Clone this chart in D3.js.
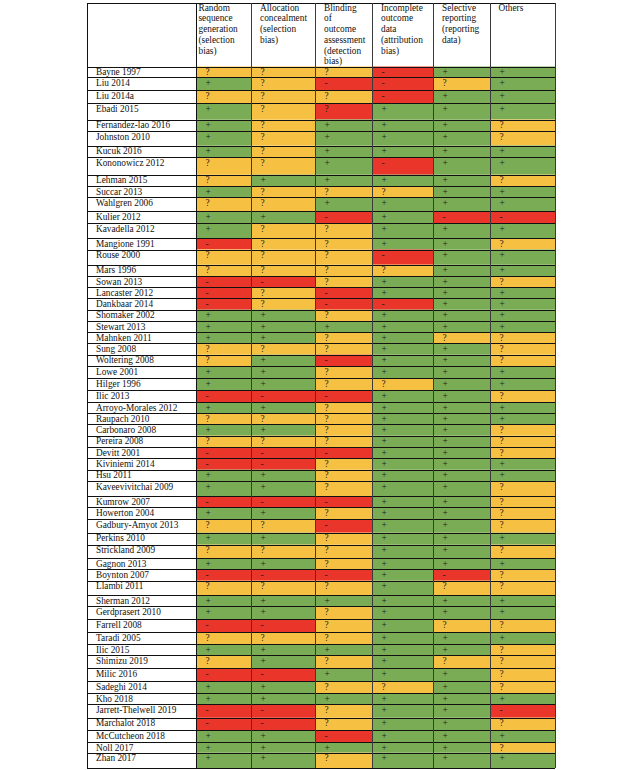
<!DOCTYPE html>
<html><head><meta charset="utf-8">
<script src="https://cdn.jsdelivr.net/npm/d3@7"></script>
<style>html,body{margin:0;padding:0;background:#fff;}svg{display:block;}</style>
</head><body>
<script>
// ---- DATA ----
const domains = [
  ["Random","sequence","generation","(selection","bias)"],
  ["Allocation","concealment","(selection","bias)"],
  ["Blinding","of","outcome","assessment","(detection","bias)"],
  ["Incomplete","outcome","data","(attribution","bias)"],
  ["Selective","reporting","(reporting","data)"],
  ["Others"]
];
const studies = [
  "Bayne 1997","Liu 2014","Liu 2014a","Ebadi 2015","Fernandez-lao 2016","Johnston 2010","Kucuk 2016",
  "Kononowicz 2012","Lehman 2015","Succar 2013","Wahlgren 2006","Kulier 2012","Kavadella 2012",
  "Mangione 1991","Rouse 2000","Mars 1996","Sowan 2013","Lancaster 2012","Dankbaar 2014",
  "Shomaker 2002","Stewart 2013","Mahnken 2011","Sung 2008","Woltering 2008","Lowe 2001",
  "Hilger 1996","Ilic 2013","Arroyo-Morales 2012","Raupach 2010","Carbonaro 2008","Pereira 2008",
  "Devitt 2001","Kiviniemi 2014","Hsu 2011","Kaveevivitchai 2009","Kumrow 2007","Howerton 2004",
  "Gadbury-Amyot 2013","Perkins 2010","Strickland 2009","Gagnon 2013","Boynton 2007","Llambi 2011",
  "Sherman 2012","Gerdprasert 2010","Farrell 2008","Taradi 2005","Ilic 2015","Shimizu 2019",
  "Milic 2016","Sadeghi 2014","Kho 2018","Jarrett-Thelwell 2019","Marchalot 2018",
  "McCutcheon 2018","Noll 2017","Zhan 2017"
];
// "+" low risk, "?" unclear, "-" high risk, "R?" high risk marked with "?"
const judgements = [
  ["?","?","?","-","+","+"],
  ["+","?","-","-","?","+"],
  ["?","?","?","-","+","+"],
  ["+","?","R?","+","+","+"],
  ["+","?","+","+","+","?"],
  ["+","?","+","+","+","?"],
  ["+","?","+","+","+","+"],
  ["?","?","+","-","+","+"],
  ["?","+","+","+","+","?"],
  ["+","?","?","?","+","+"],
  ["?","?","+","+","+","+"],
  ["+","+","-","+","-","-"],
  ["+","?","?","+","+","+"],
  ["-","?","?","+","+","?"],
  ["?","?","?","-","+","+"],
  ["?","?","?","?","+","+"],
  ["-","-","?","+","+","?"],
  ["-","?","-","+","+","+"],
  ["-","?","-","-","+","+"],
  ["+","+","?","+","+","+"],
  ["+","+","+","+","+","+"],
  ["+","+","?","+","?","?"],
  ["?","?","?","+","+","?"],
  ["?","+","-","+","+","?"],
  ["+","+","?","+","+","+"],
  ["+","+","?","?","+","+"],
  ["-","-","-","+","+","?"],
  ["+","+","?","+","+","+"],
  ["?","?","?","+","+","+"],
  ["+","+","?","+","+","?"],
  ["?","?","?","+","+","?"],
  ["-","-","-","+","+","?"],
  ["-","-","?","+","+","+"],
  ["+","+","?","+","+","+"],
  ["+","+","?","+","+","?"],
  ["-","-","-","+","+","?"],
  ["+","+","?","+","+","?"],
  ["?","?","-","+","+","?"],
  ["+","+","?","+","+","+"],
  ["?","?","?","+","+","?"],
  ["+","+","?","+","+","+"],
  ["-","-","-","+","-","?"],
  ["?","?","?","+","?","?"],
  ["+","+","+","+","+","+"],
  ["+","+","?","+","+","+"],
  ["-","-","?","+","?","?"],
  ["?","?","?","+","+","+"],
  ["+","+","+","+","+","?"],
  ["?","+","?","+","?","?"],
  ["-","-","+","+","+","?"],
  ["+","+","?","?","+","?"],
  ["+","+","+","+","+","+"],
  ["-","-","?","+","+","-"],
  ["-","-","?","+","+","?"],
  ["+","+","-","+","+","+"],
  ["+","+","+","+","+","?"],
  ["+","+","?","+","+","+"]
];

// ---- LAYOUT (sizes, not data) ----
const W = 642, H = 770;
const tableLeft = 87, tableTop = 2.5, headerH = 64;
const colWidths = [109, 55, 64, 57, 61, 57, 65];       // label column + 6 domains
const rowHeights = [
  10.8,13,12.7,16.5,11.7,14.3,11.5,17.7,11.3,11,14.3,11.7,15,11.5,15.2,11.3,11,11.3,11.4,
  11.3,11,11.3,11.4,11.3,12,12.3,11.7,11,11.3,11.4,11.3,11.3,11.4,11.3,15,11,12,13.7,12,
  13.3,11.3,11.4,14.6,11,13,12.7,12,11.3,12.7,13,12,11.3,13.4,12.6,11.7,10.7,15.3
];
const headerInset = [2.5, 9, 9, 9, 9, 8.5];
const fillFor = {"+":"#7aab55","?":"#f6c143","-":"#e9352a","R?":"#e9352a"};
const glyphFor = {"+":"+","?":"?","-":"-","R?":"?"};
const font = "'Liberation Serif','Times New Roman',serif";
const fs = 9.3;

const colEdges = [tableLeft, ...d3.cumsum(colWidths).map(v => tableLeft + v)];
const rowEdges = [tableTop + headerH, ...d3.cumsum(rowHeights).map(v => tableTop + headerH + v)];
const tableRight = colEdges[colEdges.length - 1];
const tableBottom = rowEdges[rowEdges.length - 1];

// scales
const xCol = d3.scaleOrdinal().domain(d3.range(domains.length)).range(colEdges.slice(1, -1));
const wCol = d3.scaleOrdinal().domain(d3.range(domains.length)).range(colWidths.slice(1));
const yRow = d3.scaleOrdinal().domain(studies).range(rowEdges.slice(0, -1));
const hRow = d3.scaleOrdinal().domain(studies).range(rowHeights);

const svg = d3.select("body").append("svg").attr("width", W).attr("height", H);
svg.append("rect").attr("width", W).attr("height", H).attr("fill", "#fff");

// cells
const rows = svg.append("g").selectAll("g").data(studies).join("g")
  .attr("transform", d => `translate(0,${yRow(d)})`);

rows.selectAll("rect").data((d, i) => judgements[i].map((v, j) => ({v, j, s: d})))
  .join("rect")
  .attr("x", d => xCol(d.j)).attr("y", 0)
  .attr("width", d => wCol(d.j)).attr("height", d => hRow(d.s))
  .attr("fill", d => fillFor[d.v]);

rows.selectAll("text.sym").data((d, i) => judgements[i].map((v, j) => ({v, j})))
  .join("text").attr("class", "sym")
  .attr("x", d => xCol(d.j) + 9.5).attr("y", 8.6)
  .attr("font-family", font).attr("font-size", fs).attr("fill", "#222")
  .text(d => glyphFor[d.v]);

rows.append("text")
  .attr("x", tableLeft + 9).attr("y", 8.6)
  .attr("font-family", font).attr("font-size", fs).attr("fill", "#111")
  .text(d => d);

// header text
const hdr = svg.append("g").selectAll("g").data(domains).join("g");
hdr.selectAll("text").data((d, j) => d.map((line, k) => ({line, k, j})))
  .join("text")
  .attr("x", d => xCol(d.j) + headerInset[d.j])
  .attr("y", d => tableTop + 8.2 + d.k * 10.7)
  .attr("font-family", font).attr("font-size", fs).attr("fill", "#111")
  .text(d => d.line);

// grid lines
const grid = svg.append("g").attr("shape-rendering", "crispEdges");
grid.selectAll("line.h").data([tableTop, ...rowEdges]).join("line").attr("class", "h")
  .attr("x1", tableLeft).attr("x2", tableRight)
  .attr("y1", d => Math.round(d) + 0.5).attr("y2", d => Math.round(d) + 0.5)
  .attr("stroke", "#111").attr("stroke-width", 1);

grid.selectAll("line.v").data(colEdges).join("line").attr("class", "v")
  .attr("x1", d => Math.round(d) + 0.5).attr("x2", d => Math.round(d) + 0.5)
  .attr("y1", tableTop).attr("y2", tableBottom)
  .attr("stroke", (d, i) => (i === 0 || i === 1) ? "#111" : "#3a3a3a")
  .attr("stroke-width", (d, i) => (i >= 2 && i < colEdges.length - 1) ? 1.5 : 1);
</script>
</body></html>
